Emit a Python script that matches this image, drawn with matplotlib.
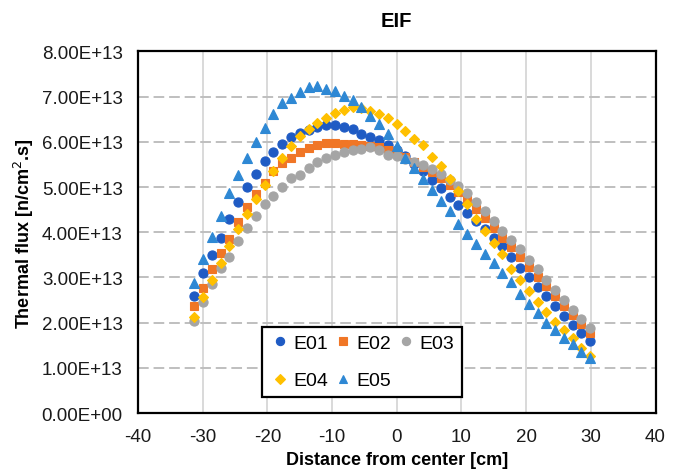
import matplotlib
matplotlib.use("Agg")
import matplotlib.pyplot as plt
from matplotlib.ticker import FuncFormatter, MultipleLocator

plt.rcParams['font.family'] = ['Liberation Sans', 'DejaVu Sans']
plt.rcParams['axes.unicode_minus'] = False

# Distance from center [cm]
distance = [-31.3, -29.9, -28.6, -27.2, -25.9, -24.5, -23.1, -21.8, -20.4, -19.1,
            -17.7, -16.4, -15.0, -13.6, -12.3, -10.9, -9.6, -8.2, -6.8, -5.5,
            -4.1, -2.8, -1.4, 0.0, 1.3, 2.7, 4.1, 5.4, 6.8, 8.2,
            9.5, 10.9, 12.2, 13.6, 15.0, 16.3, 17.7, 19.0, 20.4, 21.8,
            23.1, 24.5, 25.8, 27.2, 28.5, 29.9]

# Thermal flux in units of 1e13 n/cm2.s
e01 = [2.59, 3.09, 3.49, 3.87, 4.29, 4.66, 5.01, 5.29, 5.58, 5.77,
       5.96, 6.11, 6.20, 6.27, 6.32, 6.37, 6.37, 6.32, 6.29, 6.18,
       6.11, 6.05, 5.93, 5.83, 5.68, 5.52, 5.35, 5.15, 4.97, 4.79,
       4.61, 4.43, 4.25, 4.07, 3.88, 3.69, 3.46, 3.22, 3.00, 2.78,
       2.58, 2.36, 2.15, 1.94, 1.77, 1.60]
e02 = [2.36, 2.76, 3.18, 3.55, 3.86, 4.23, 4.55, 4.84, 5.10, 5.35,
       5.54, 5.65, 5.77, 5.87, 5.93, 5.97, 5.97, 5.96, 5.95, 5.94,
       5.91, 5.88, 5.82, 5.77, 5.66, 5.55, 5.45, 5.33, 5.20, 5.05,
       4.88, 4.71, 4.52, 4.32, 4.10, 3.88, 3.68, 3.46, 3.24, 3.01,
       2.80, 2.58, 2.37, 2.16, 1.96, 1.77]
e03 = [2.04, 2.46, 2.85, 3.20, 3.46, 3.81, 4.10, 4.36, 4.62, 4.80,
       5.01, 5.19, 5.26, 5.43, 5.55, 5.65, 5.72, 5.78, 5.82, 5.85,
       5.88, 5.82, 5.70, 5.68, 5.62, 5.56, 5.49, 5.40, 5.29, 5.16,
       5.02, 4.86, 4.67, 4.46, 4.25, 4.03, 3.83, 3.62, 3.39, 3.18,
       2.95, 2.72, 2.50, 2.28, 2.07, 1.88]
e04 = [2.13, 2.56, 2.94, 3.31, 3.70, 4.07, 4.41, 4.73, 5.05, 5.36,
       5.64, 5.90, 6.12, 6.28, 6.42, 6.52, 6.63, 6.70, 6.78, 6.76,
       6.68, 6.62, 6.52, 6.40, 6.25, 6.07, 5.92, 5.67, 5.47, 5.17,
       4.91, 4.62, 4.30, 4.03, 3.76, 3.51, 3.18, 2.95, 2.70, 2.46,
       2.24, 2.02, 1.84, 1.65, 1.45, 1.27]
e05 = [2.87, 3.41, 3.89, 4.35, 4.86, 5.26, 5.65, 5.99, 6.30, 6.62,
       6.85, 6.98, 7.10, 7.21, 7.23, 7.17, 7.12, 7.02, 6.93, 6.78,
       6.58, 6.40, 6.17, 5.91, 5.65, 5.43, 5.17, 4.94, 4.70, 4.47,
       4.18, 3.96, 3.74, 3.51, 3.31, 3.09, 2.89, 2.63, 2.41, 2.21,
       1.99, 1.84, 1.67, 1.52, 1.34, 1.21]

series_labels = ["E01", "E02", "E03", "E04", "E05"]
scale = 1e13

fig = plt.figure(figsize=(6.81, 4.77), dpi=100)
ax = fig.add_axes([0.2026, 0.132, 0.7600, 0.758])

styles = [
    dict(marker='o', color='#1F5BC4', ms=6.6),
    dict(marker='s', color='#F07626', ms=6.2),
    dict(marker='o', color='#A5A5A5', ms=6.6),
    dict(marker='D', color='#FFC000', ms=5.2),
    dict(marker='^', color='#2E88D4', ms=7.0),
]
handles = []
for lab, ys, st in zip(series_labels, [e01, e02, e03, e04, e05], styles):
    h, = ax.plot(distance, [v * scale for v in ys], linestyle='none',
                 marker=st['marker'], markersize=st['ms'],
                 markerfacecolor=st['color'], markeredgecolor=st['color'],
                 markeredgewidth=0.8, label=lab, zorder=3)
    handles.append(h)

ax.set_xlim(-40, 40)
ax.set_ylim(0, 8e13)
ax.xaxis.set_major_locator(MultipleLocator(10))
ax.yaxis.set_major_locator(MultipleLocator(1e13))
ax.yaxis.set_major_formatter(FuncFormatter(lambda v, p: f"{v:.2E}"))

ax.grid(axis='x', color='#D9D9D9', linewidth=1.4, linestyle='-', zorder=0)
ax.grid(axis='y', color='#BFBFBF', linewidth=1.4, linestyle=(0, (5.5, 2.5)), zorder=0)
ax.set_axisbelow(True)

for s in ax.spines.values():
    s.set_color('black')
    s.set_linewidth(1.6)

ax.tick_params(axis='both', length=0, labelsize=13.5, pad=11, labelcolor='#1a1a1a')

ax.set_xlabel("Distance from center [cm]", fontsize=13, fontweight='bold', labelpad=4)
ax.set_ylabel("Thermal flux [n/cm$^{2}$.s]", fontsize=13, fontweight='bold', labelpad=4)
ax.set_title("EIF", fontsize=14.5, fontweight='bold', pad=18)

# row-major legend order: E01 E02 E03 / E04 E05
order = [0, 3, 1, 4, 2]
leg = ax.legend([handles[i] for i in order], [series_labels[i] for i in order],
                loc='lower left', bbox_to_anchor=(0.24, 0.044, 0.386, 0.216),
                mode='expand', ncol=3, fontsize=14, frameon=True, fancybox=False,
                handletextpad=0.2, columnspacing=0.6, handlelength=1.0,
                borderaxespad=0, labelspacing=1.0, markerscale=0.9)
leg.get_frame().set_edgecolor('black')
leg.get_frame().set_linewidth(1.6)
leg.get_frame().set_facecolor('white')
leg.get_frame().set_alpha(1)

fig.savefig("out.png", dpi=100)
